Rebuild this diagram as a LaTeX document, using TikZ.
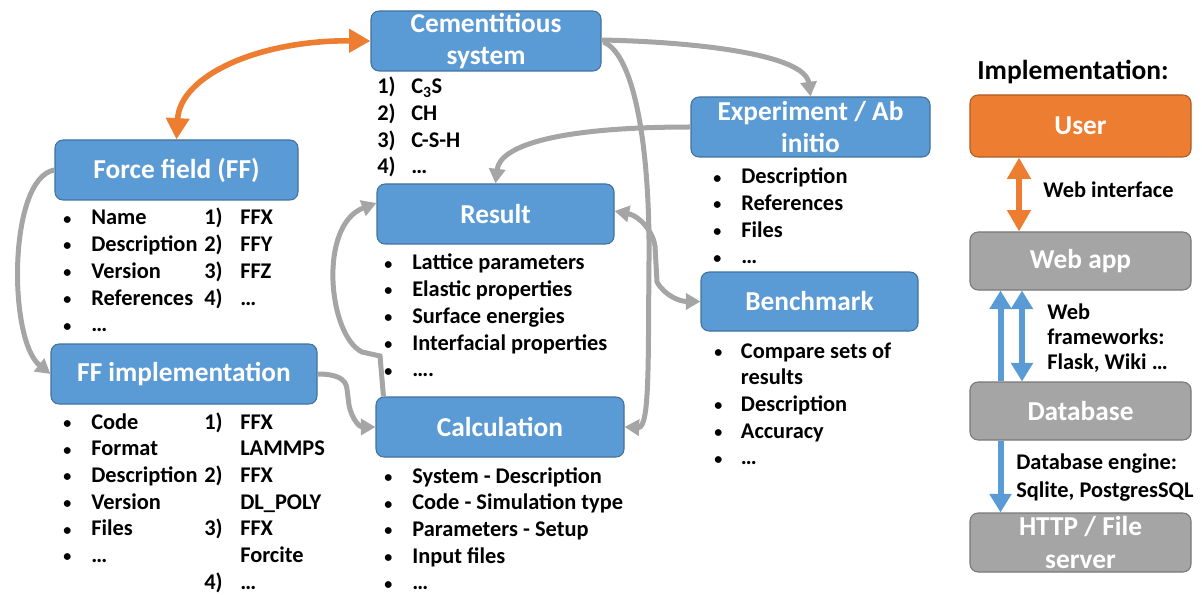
\documentclass[tikz,border=0pt]{standalone}
\usepackage{fontspec}
\setmainfont{Carlito}
\usetikzlibrary{arrows.meta,calc}
\definecolor{boxblue}{HTML}{5B9BD5}
\definecolor{boxborder}{HTML}{41719C}
\definecolor{orng}{HTML}{ED7D31}
\definecolor{orngborder}{HTML}{AE5A21}
\definecolor{gry}{HTML}{A5A5A5}
\definecolor{gryborder}{HTML}{787878}
\newcommand\hdfont{\fontsize{20.5}{24.5}\selectfont\bfseries}
\newcommand\lsfont{\fontsize{16.8}{20}\selectfont\bfseries}
\newcommand\rtfont{\fontsize{16.8}{19}\selectfont\bfseries}
\newcommand\bul{{\fontsize{12}{12}\selectfont\raisebox{0.5pt}{•}}}
\begin{document}
\begin{tikzpicture}[x=0.75pt,y=-0.75pt,
  box/.style={draw=boxborder, fill=boxblue, rounded corners=6pt, line width=0.8pt,
    text=white, font=\hdfont, align=center, inner sep=0pt},
  obox/.style={box, draw=orngborder, fill=orng},
  gbox/.style={box, draw=gryborder, fill=gry},
  bw/.style={minimum width=#1*0.75pt},
  bh/.style={minimum height=#1*0.75pt},
  lst/.style={font=\lsfont, inner sep=0pt, anchor=base west},
  rtxt/.style={font=\rtfont, inner sep=0pt, anchor=base west},
  garr/.style={draw=gry, line width=3.75pt, -{Triangle[length=11pt,width=12pt]}},
  gdarr/.style={draw=gry, line width=3.75pt, {Triangle[length=11pt,width=12pt]}-{Triangle[length=11pt,width=12pt]}},
  oarr/.style={draw=orng, line width=4.2pt, {Triangle[length=16pt,width=17pt]}-{Triangle[length=16pt,width=17pt]}},
  barr/.style={draw=boxblue, line width=4.5pt, -{Triangle[length=14pt,width=16pt]}},
  bdarr/.style={draw=boxblue, line width=4.5pt, {Triangle[length=14pt,width=16pt]}-{Triangle[length=14pt,width=16pt]}}
]
\useasboundingbox (0,0) rectangle (1202,595);

% ---- boxes
\node[box, bw=230, bh=60] (cem) at (486,41) {Cementitious\\system};
\node[box, bw=243, bh=60] (ff) at (176.5,170) {Force field (FF)};
\node[box, bw=237, bh=60] (res) at (495.5,214) {Result};
\node[box, bw=239, bh=60] (exp) at (810.5,127) {Experiment / Ab\\initio};
\node[box, bw=217, bh=59] (bench) at (809.5,301.5) {Benchmark};
\node[box, bw=266, bh=60] (ffi) at (184,374) {FF implementation};
\node[box, bw=248, bh=60] (calc) at (500,427) {Calculation};

\node[font=\fontsize{20.6}{24}\selectfont\bfseries, inner sep=0pt] (impl) at (1073,72) {Implementation:};
\node[obox, bw=221, bh=62] (user) at (1080.5,126) {User};
\node[gbox, bw=221, bh=58] (webapp) at (1080.5,261) {Web app};
\node[gbox, bw=221, bh=58] (db) at (1080.5,411) {Database};
\node[gbox, bw=221, bh=59] (http) at (1080.5,542.5) {HTTP / File\\server};

% ---- lists
\node[lst] (cemlist) at (377,94) {\begin{tabular}[t]{@{}p{25.5pt}@{}l@{}}1) & C\textsubscript{3}S\\ 2) & CH\\ 3) & C-S-H\\ 4) & …\end{tabular}};
\node[lst] (fflist) at (63,225) {\begin{tabular}[t]{@{}p{21pt}@{}l@{}}\bul & Name\\ \bul & Description\\ \bul & Version\\ \bul & References\\ \bul & …\end{tabular}};
\node[lst] (ffnums) at (204,225) {\begin{tabular}[t]{@{}p{27pt}@{}l@{}}1) & FFX\\ 2) & FFY\\ 3) & FFZ\\ 4) & …\end{tabular}};
\node[lst] (reslist) at (384,270) {\begin{tabular}[t]{@{}p{21pt}@{}l@{}}\bul & Lattice parameters\\ \bul & Elastic properties\\ \bul & Surface energies\\ \bul & Interfacial properties\\ \bul & ….\end{tabular}};
\node[lst] (explist) at (713,184) {\begin{tabular}[t]{@{}p{21pt}@{}l@{}}\bul & Description\\ \bul & References\\ \bul & Files\\ \bul & …\end{tabular}};
\node[lst] (benchlist) at (714,358) {\begin{tabular}[t]{@{}p{20pt}@{}l@{}}\bul & Compare sets of\\ & results\\ \bul & Description\\ \bul & Accuracy\\ \bul & …\end{tabular}};
\node[lst] (ffilist) at (63,429) {\begin{tabular}[t]{@{}p{21pt}@{}l@{}}\bul & Code\\ \bul & Format\\ \bul & Description\\ \bul & Version\\ \bul & Files\\ \bul & …\end{tabular}};
\node[lst] (ffinums) at (204,429) {\begin{tabular}[t]{@{}p{27pt}@{}l@{}}1) & FFX\\ & LAMMPS\\ 2) & FFX\\ & DL\_POLY\\ 3) & FFX\\ & Forcite\\ 4) & …\end{tabular}};
\node[lst] (calclist) at (384,483) {\begin{tabular}[t]{@{}p{21pt}@{}l@{}}\bul & System - Description\\ \bul & Code - Simulation type\\ \bul & Parameters - Setup\\ \bul & Input files\\ \bul & …\end{tabular}};

% ---- right side labels
\node[rtxt] (wi) at (1043,198) {Web interface};
\node[rtxt] (wf) at (1047,319) {\begin{tabular}[t]{@{}l@{}}Web\\ frameworks:\\ Flask,  Wiki …\end{tabular}};
\node[rtxt] (de) at (1016,469) {\begin{tabular}[t]{@{}l@{}}Database engine:\\[2pt] Sqlite, PostgresSQL\end{tabular}};

% ---- connectors (left)
\draw[oarr] (ff.north) .. controls (180,75) and (260,40) .. (cem.west);
\draw[garr] (ff.west) .. controls (8,178) and (8,340) .. (ffi.west);
\draw[garr] (ffi.east) .. controls (335,374) and (346,378) .. (347,389) -- (349,405) .. controls (352,420) and (360,427) .. (calc.west);
\draw[garr] ($(calc.north west)+(8,0)$) -- (380,356) -- (362,352) .. controls (328,335) and (318,225) .. ($(res.west)+(0,-11)$);
\draw[garr] ($(cem.east)+(0,-1)$) .. controls (700,42) and (805,55) .. (exp.north);
\draw[garr] ($(cem.east)+(2,1)$) .. controls (635,55) and (650,150) .. (649,260) .. controls (648,360) and (650,428) .. (calc.east);
\draw[garr] (exp.west) .. controls (560,127) and (500,145) .. (res.north);
\draw[gdarr] ($(res.east)+(0,-3)$) .. controls (640,216) and (653,232) .. (655,246) -- (657,282) .. controls (665,296) and (680,301.5) .. (bench.west);

% ---- connectors (right)
\draw[oarr] ($(user.south)+(-61.5,0)$) -- ($(webapp.north)+(-61.5,0)$);
\draw[barr] ($(db.north)+(-80,0)$) -- ($(webapp.south)+(-80,0)$);
\draw[bdarr] ($(db.north)+(-58.5,0)$) -- ($(webapp.south)+(-58.5,0)$);
\draw[barr] ($(db.south)+(-80,0)$) -- ($(http.north)+(-80,0)$);
\end{tikzpicture}
\end{document}
